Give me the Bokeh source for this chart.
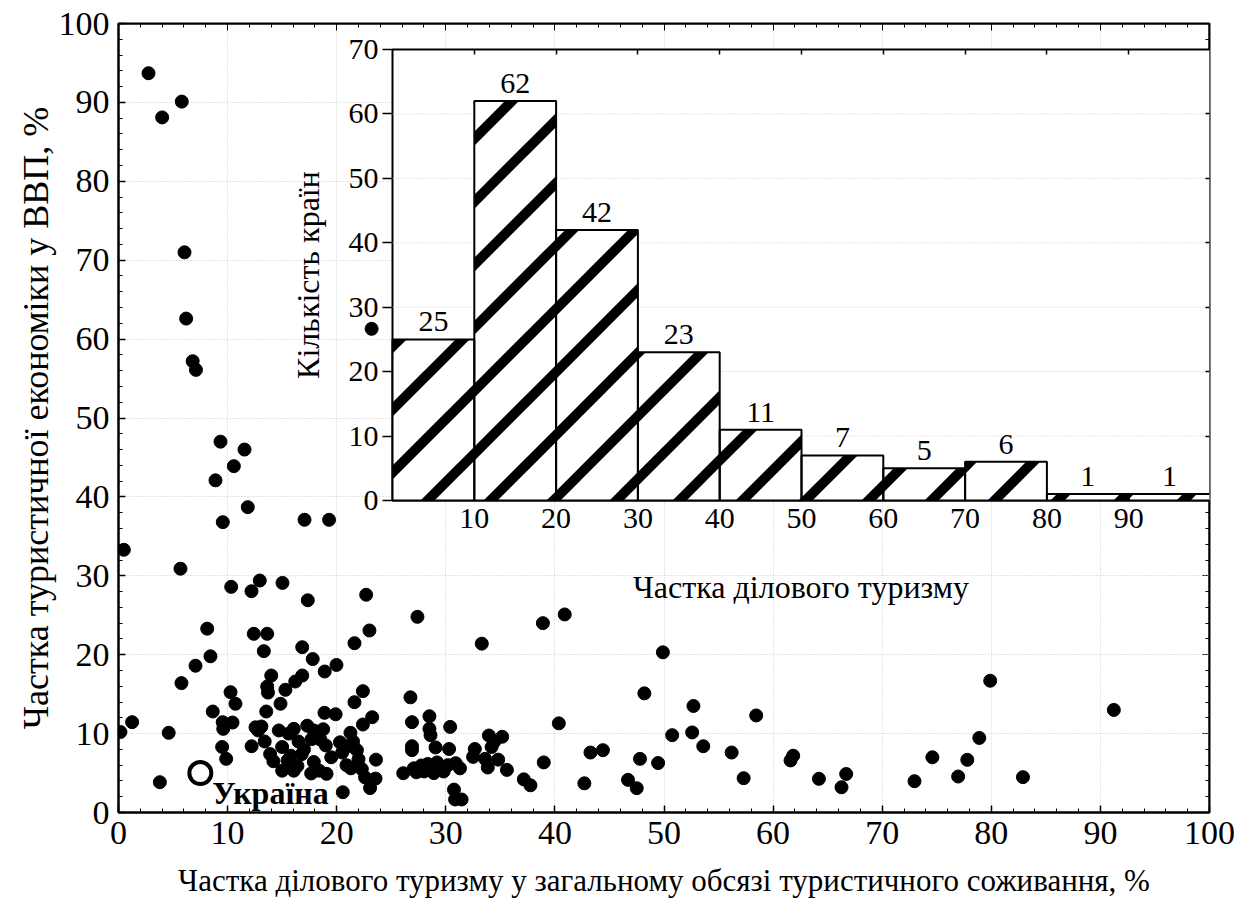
from bokeh.plotting import figure
from bokeh.models import (Range1d, LinearAxis, SingleIntervalTicker, FixedTicker,
                          CustomJSTickFormatter)
from bokeh.embed import file_html
from bokeh.resources import INLINE
from bokeh.core.properties import value

FONT = "Liberation Serif"

# ---------------- data ----------------
business_share = [
    2.75, 4.0, 5.8, 6.05, 6.2, 6.8, 7.1, 9.35, 8.89, 9.56, 0.49, 5.68, 8.13, 8.43, 7.06,
    5.77, 8.64, 1.25, 0.18, 4.6, 9.55, 9.6, 9.5, 3.79, 9.87,
    11.55, 10.57, 11.85, 17.05, 19.3, 10.33, 12.19, 12.95, 15.03, 17.35, 12.4, 13.63, 13.32,
    16.84, 17.8, 18.9, 19.98, 14.0, 13.63, 13.7, 16.84, 16.2, 15.3, 10.27, 10.72, 14.85,
    13.54, 18.88, 19.9, 10.45, 12.56, 12.8, 14.7, 16.07, 17.3, 17.9, 18.76, 18.05, 18.5,
    17.7, 16.5, 13.4, 12.2, 15.0, 13.9, 16.8, 15.5, 15.8, 17.9, 15.0, 16.07, 17.66, 19.07,
    19.5, 15.8, 15.6, 17.0, 19.0, 14.2, 16.4, 18.4, 13.1,
    23.2, 22.7, 27.4, 23.0, 21.63, 21.63, 22.4, 23.25, 22.4, 20.3, 20.95, 21.26, 21.85,
    22.0, 20.9, 21.3, 20.56, 22.6, 23.06, 23.56, 23.6, 26.76, 26.9, 28.5, 28.5, 28.6, 26.9,
    26.9, 29.06, 26.1, 27.07, 27.75, 28.35, 28.9, 29.2, 29.8, 20.5, 21.5, 22.3, 28.0, 29.5,
    27.3,
    33.3, 38.9, 30.4, 30.3, 32.66, 32.5, 33.6, 33.85, 33.95, 34.45, 35.17, 34.8, 35.6,
    37.15, 37.76, 38.98, 30.9, 31.3, 30.75, 30.85, 31.45, 30.2, 34.2,
    40.9, 40.36, 43.26, 44.4, 42.7, 47.8, 49.46, 46.7, 47.5, 48.2, 49.9,
    50.75, 52.58, 52.7, 53.6, 56.2, 57.3, 58.45,
    61.6, 61.84, 64.2, 66.7, 66.27,
    72.96, 74.6, 76.96, 77.8, 78.9, 79.9,
    82.9, 91.23,
]
gdp_share = [
    93.7, 88.1, 90.1, 71.0, 62.6, 57.2, 56.1, 47.0, 42.1, 36.8, 33.3, 30.9, 23.3, 19.8, 18.6,
    16.4, 12.8, 11.45, 10.2, 10.1, 11.45, 10.6, 8.3, 3.84, 6.8,
    46.0, 43.9, 38.7, 37.1, 37.1, 28.6, 28.05, 29.4, 29.1, 26.9, 22.65, 22.65, 20.45,
    20.95, 19.45, 17.87, 18.7, 17.36, 15.97, 15.2, 17.36, 16.6, 15.55, 15.25, 13.78, 13.78,
    12.8, 12.63, 12.45, 11.4, 10.8, 10.4, 10.4, 10.6, 11.0, 10.4, 10.55, 9.95, 9.25,
    9.3, 9.0, 9.0, 8.4, 8.3, 7.4, 7.4, 6.6, 7.2, 6.4, 5.3, 5.3, 4.95, 4.9,
    7.0, 5.7, 10.0, 8.0, 8.5, 6.5, 5.9, 5.3, 10.9,
    61.3, 27.6, 24.8, 23.07, 21.46, 13.98, 15.38, 12.08, 11.15, 8.9, 8.35, 10.1, 7.9,
    6.75, 6.0, 5.6, 2.57, 4.45, 3.1, 4.3, 6.7, 14.6, 11.45, 12.2, 10.6, 9.8, 8.4,
    7.9, 8.25, 4.98, 5.6, 5.96, 6.15, 5.0, 6.35, 5.2, 7.6, 9.0, 5.5, 5.2, 5.8,
    5.1,
    21.4, 24.0, 10.85, 8.05, 8.05, 7.05, 6.8, 5.7, 9.76, 9.0, 9.6, 6.7, 5.4,
    4.2, 3.45, 6.35, 6.25, 5.6, 2.9, 1.65, 1.65, 6.0, 8.3,
    25.1, 11.3, 7.6, 7.9, 3.7, 6.8, 6.27, 4.14, 3.08, 15.1, 20.3,
    9.8, 10.15, 13.5, 8.4, 7.6, 4.35, 12.3,
    6.6, 7.2, 4.27, 4.88, 3.2,
    3.97, 7.0, 4.56, 6.68, 9.45, 16.7,
    4.48, 13.0,
]
ukraine_x = [7.5]
ukraine_y = [5.0]
ukraine_label = ["Україна"]

hist_left = [0, 10, 20, 30, 40, 50, 60, 70, 80, 90]
hist_right = [10, 20, 30, 40, 50, 60, 70, 80, 90, 100]
hist_counts = [25, 62, 42, 23, 11, 7, 5, 6, 1, 1]
hist_centers = [5, 15, 25, 35, 45, 55, 65, 75, 85, 95]

inset_x_ticks = [10, 20, 30, 40, 50, 60, 70, 80, 90]
inset_y_ticks = [0, 10, 20, 30, 40, 50, 60, 70]
inset_grid_levels = [10, 20, 30, 40, 50, 60]

main_xlabel = "Частка ділового туризму у загальному обсязі туристичного соживання, %"
main_ylabel = "Частка туристичної економіки у ВВП, %"
inset_xlabel = "Частка ділового туризму"
inset_ylabel = "Кількість країн"

# ---------------- geometry (pixels) ----------------
W, H = 1240, 908
BL, BR, BT, BB = 118, 31, 23, 96
FRAME_W = W - BL - BR
FRAME_H = H - BT - BB
IN_L, IN_R = 274, FRAME_W + 1
IN_T, IN_B = 26, 477
ix_scale = (IN_R - IN_L) / 100.0
iy_scale = (IN_B - IN_T) / 70.0
ix_start = -IN_L / ix_scale
ix_end = 100 + (FRAME_W - IN_R) / ix_scale
iy_start = -(FRAME_H - IN_B) / iy_scale
iy_end = 70 + IN_T / iy_scale

# hatch stripes ("/" at 45 deg on screen), computed from the histogram bars
HATCH_PERIOD = 63.0   # px, vertical period
HATCH_HALF = 7.0      # px, vertical half thickness
HATCH_PHASE = 28.0    # px


def _clip(poly, a, b, c, keep_ge):
    out = []
    n = len(poly)
    for i in range(n):
        p1 = poly[i]
        p2 = poly[(i + 1) % n]
        f1 = a * p1[0] + b * p1[1] - c
        f2 = a * p2[0] + b * p2[1] - c
        in1 = f1 >= 0 if keep_ge else f1 <= 0
        in2 = f2 >= 0 if keep_ge else f2 <= 0
        if in1:
            out.append(p1)
        if in1 != in2:
            t = f1 / (f1 - f2)
            out.append((p1[0] + t * (p2[0] - p1[0]), p1[1] + t * (p2[1] - p1[1])))
    return out


stripe_xs, stripe_ys = [], []
for l, r, h in zip(hist_left, hist_right, hist_counts):
    rect = [(l, 0), (r, 0), (r, h), (l, h)]
    fmin = -ix_scale * r
    fmax = iy_scale * h - ix_scale * l
    k0 = int((fmin - HATCH_PHASE) // HATCH_PERIOD) - 1
    k1 = int((fmax - HATCH_PHASE) // HATCH_PERIOD) + 2
    for k in range(k0, k1):
        c = HATCH_PHASE + k * HATCH_PERIOD
        poly = _clip(rect, -ix_scale, iy_scale, c - HATCH_HALF, True)
        if len(poly) >= 3:
            poly = _clip(poly, -ix_scale, iy_scale, c + HATCH_HALF, False)
        if len(poly) >= 3:
            stripe_xs.append([q[0] for q in poly])
            stripe_ys.append([q[1] for q in poly])

p = figure(width=W, height=H, x_range=Range1d(0, 100), y_range=Range1d(0, 100),
           output_backend="svg", toolbar_location=None,
           min_border_left=BL, min_border_right=BR, min_border_top=BT, min_border_bottom=BB)
p.extra_x_ranges = {"ix": Range1d(ix_start, ix_end)}
p.extra_y_ranges = {"iy": Range1d(iy_start, iy_end)}

p.background_fill_color = "white"
p.border_fill_color = "white"
p.outline_line_color = "black"
p.outline_line_width = 2

main_ticker = SingleIntervalTicker(interval=10, num_minor_ticks=5)

for ax in (p.xaxis[0], p.yaxis[0]):
    ax.ticker = main_ticker
    ax.major_tick_in = 7
    ax.major_tick_out = 0
    ax.minor_tick_in = 4
    ax.minor_tick_out = 0
    ax.axis_line_width = 2
    ax.major_tick_line_width = 1.5
    ax.major_label_text_font = FONT
    ax.major_label_text_font_size = "34px"
    ax.major_label_text_color = "black"
    ax.axis_label_text_font = FONT
    ax.axis_label_text_font_style = "normal"
    ax.axis_label_text_color = "black"

p.xaxis[0].axis_label = main_xlabel
p.xaxis[0].axis_label_text_font_size = "31px"
p.xaxis[0].major_label_standoff = 9
p.xaxis[0].axis_label_standoff = 16
p.yaxis[0].axis_label = main_ylabel
p.yaxis[0].axis_label_text_font_size = "36px"
p.yaxis[0].major_label_standoff = 9
p.yaxis[0].axis_label_standoff = 0

blank = CustomJSTickFormatter(code="return ''")
top_axis = LinearAxis(ticker=main_ticker, formatter=blank, fixed_location=100,
                      major_tick_in=7, major_tick_out=0, minor_tick_in=4, minor_tick_out=0,
                      axis_line_width=2)
right_axis = LinearAxis(ticker=main_ticker, formatter=blank, fixed_location=100,
                        major_tick_in=7, major_tick_out=0, minor_tick_in=4, minor_tick_out=0,
                        axis_line_width=2, level="underlay")
p.add_layout(top_axis, "above")
p.add_layout(right_axis, "right")

for g in (p.xgrid[0], p.ygrid[0]):
    g.ticker = main_ticker
    g.grid_line_color = "#c8c8c8"
    g.grid_line_dash = "1 2"
    g.grid_line_width = 1

# main scatter
p.scatter(business_share, gdp_share, size=13, marker="circle",
          fill_color="black", line_color="black")
p.scatter(ukraine_x, ukraine_y, size=22, marker="circle", fill_color="white",
          line_color="black", line_width=4)
p.text([8.6], [2.5], text=ukraine_label, text_font=value(FONT),
       text_font_size="32px", text_font_style="bold", text_baseline="middle",
       text_align="left", text_color="black")

# ---------------- inset histogram ----------------
p.quad(left=[0], right=[100], bottom=[0], top=[70], x_range_name="ix", y_range_name="iy",
       fill_color="white", line_color="black", line_width=2)
p.segment(x0=[0] * len(inset_grid_levels), x1=[100] * len(inset_grid_levels),
          y0=inset_grid_levels, y1=inset_grid_levels, x_range_name="ix", y_range_name="iy",
          line_color="#c8c8c8", line_dash="1 2", line_width=1)
p.quad(left=hist_left, right=hist_right, bottom=[0] * len(hist_counts), top=hist_counts,
       x_range_name="ix", y_range_name="iy", fill_color="white", line_color=None)
p.patches(stripe_xs, stripe_ys, x_range_name="ix", y_range_name="iy",
          fill_color="black", line_color=None)
p.quad(left=hist_left, right=hist_right, bottom=[0] * len(hist_counts), top=hist_counts,
       x_range_name="ix", y_range_name="iy", fill_color=None, line_color="black",
       line_width=2)
p.text(hist_centers, hist_counts, text=[str(c) for c in hist_counts],
       x_range_name="ix", y_range_name="iy", text_font=value(FONT),
       text_font_size="30px", text_align="center", text_baseline="bottom", y_offset=-8,
       text_color="black")

in_bottom = LinearAxis(x_range_name="ix", y_range_name="iy", fixed_location=0, bounds=(0, 100),
                       ticker=FixedTicker(ticks=inset_x_ticks), axis_label=inset_xlabel,
                       major_tick_in=0, major_tick_out=0, minor_tick_in=0, minor_tick_out=0,
                       axis_line_color=None, major_label_standoff=8, axis_label_standoff=38)
in_left = LinearAxis(x_range_name="ix", y_range_name="iy", fixed_location=0, bounds=(0, 70),
                     ticker=FixedTicker(ticks=inset_y_ticks), axis_label=inset_ylabel,
                     major_tick_in=0, major_tick_out=10, minor_tick_in=0, minor_tick_out=0,
                     axis_line_color=None, major_label_standoff=4, axis_label_standoff=20)
for ax in (in_bottom, in_left):
    ax.major_label_text_font = FONT
    ax.major_label_text_font_size = "30px"
    ax.major_label_text_color = "black"
    ax.axis_label_text_font = FONT
    ax.axis_label_text_font_size = "32px"
    ax.axis_label_text_font_style = "normal"
    ax.axis_label_text_color = "black"
    ax.major_tick_line_width = 1.5
in_top = LinearAxis(x_range_name="ix", y_range_name="iy", fixed_location=70, bounds=(0, 100),
                    ticker=FixedTicker(ticks=inset_x_ticks), formatter=blank,
                    major_tick_in=5, major_tick_out=0, minor_tick_in=0, minor_tick_out=0,
                    axis_line_color=None, major_tick_line_width=1.5)
in_right = LinearAxis(x_range_name="ix", y_range_name="iy", fixed_location=100, bounds=(0, 70),
                      ticker=FixedTicker(ticks=inset_grid_levels), formatter=blank,
                      major_tick_in=5, major_tick_out=0, minor_tick_in=0, minor_tick_out=0,
                      axis_line_color=None, major_tick_line_width=1.5)
p.add_layout(in_bottom, "below")
p.add_layout(in_left, "left")
p.add_layout(in_top, "above")
p.add_layout(in_right, "right")

open("out.html", "w").write(file_html(p, INLINE))
